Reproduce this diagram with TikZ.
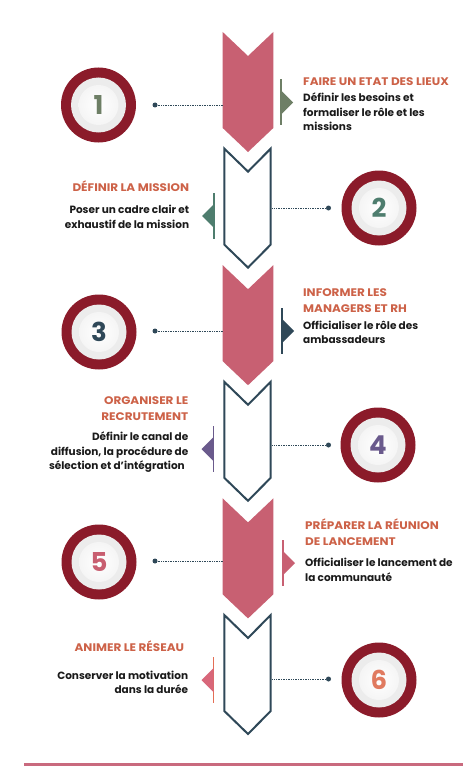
\documentclass[tikz,border=0pt]{standalone}
\usepackage{fontspec}
\setmainfont{Poppins}
\newfontfamily\ttlfont{Poppins}[FakeStretch=1.09]
\definecolor{chevpink}{HTML}{C86072}
\definecolor{slate}{HTML}{2F4858}
\definecolor{ringred}{HTML}{8B1B2A}
\definecolor{titlecol}{HTML}{CD6248}
\definecolor{bodycol}{HTML}{1A1A1A}
\definecolor{innergray}{HTML}{ECECEC}
\definecolor{cA}{HTML}{6E7F66}
\definecolor{cB}{HTML}{4E7D6E}
\definecolor{cC}{HTML}{2F4858}
\definecolor{cD}{HTML}{6A5A8C}
\definecolor{cE}{HTML}{C85E70}
\definecolor{cF}{HTML}{E07A5F}
\definecolor{mF}{HTML}{D8677A}
\definecolor{botpink}{HTML}{C96A7E}
\tikzset{
  fillchev/.style={fill=chevpink, draw=none},
  outchev/.style={draw=slate, line width=2pt, fill=white, line join=miter},
  numtxt/.style={font=\bfseries\fontsize{26}{26}\selectfont, inner sep=0},
  dotline/.style={draw=slate, line width=0.9pt, dash pattern=on 0.7pt off 1pt},
  enddot/.style={circle, fill=slate, inner sep=0, minimum size=5pt},
  ttl/.style={font=\ttlfont\bfseries\fontsize{11}{12}\selectfont, text=titlecol, inner sep=0},
  bdy/.style={font=\bfseries\fontsize{10.5}{12}\selectfont, text=bodycol, inner sep=0},
  mline/.style={line width=1.5pt},
}
\begin{document}
\begin{tikzpicture}[x=1pt, y=-1pt]
\useasboundingbox (0,0) rectangle (474,773);
\fill[white] (0,0) rectangle (474,773);

% chevrons
\foreach \t in {32,265.2,498.4} {
  \fill[fillchev] (222.7,\t) -- (248,{\t+24}) -- (273.3,\t) -- (273.3,{\t+96}) -- (248,{\t+120}) -- (222.7,{\t+96}) -- cycle;
}
\foreach \t in {148.6,381.8,615} {
  \draw[outchev] (224.3,\t) -- (248,{\t+23}) -- (270.7,\t) -- (270.7,{\t+96}) -- (248,{\t+119}) -- (224.3,{\t+96}) -- cycle;
}

% circles with numbers
\foreach \i/\cx/\cy/\col in {1/98.5/105/cA, 2/379/208/cB, 3/99/332/cC, 4/378/445/cD, 5/99/562/cE, 6/379/680/cF} {
  \fill[ringred] (\cx,\cy) circle[radius=37.5pt];
  \fill[innergray] (\cx,\cy) circle[radius=27.5pt];
  \shade[inner color=white, outer color=white!92!gray] (\cx,\cy) circle[radius=20pt];
  \node[numtxt, text=\col] (n\i) at (\cx,\cy) {\i};
}

% dots and dotted connectors
\foreach \i/\dx/\ex/\y in {1/155/222.7/105, 3/155/222.7/331, 5/155/222.7/561, 2/328.5/271.5/208, 4/328.5/271.5/445, 6/328.5/271.5/679} {
  \node[enddot] (d\i) at (\dx,\y) {};
  \coordinate (e\i) at (\ex,\y);
  \draw[dotline] (d\i) -- (e\i);
}

% markers
\foreach \x/\y/\s/\col/\lc in {281/102.5/1/cA/cA, 282/331/1/cC/cC, 283/563/1/chevpink/chevpink, 214/216/-1/cB/cB, 213.5/449/-1/cD/cD, 213.5/680/-1/mF/mF!70!orange} {
  \draw[mline, \lc] (\x,{\y-23}) -- (\x,{\y+23});
  \fill[\col] (\x,{\y-12}) -- ({\x+\s*12},\y) -- (\x,{\y+12}) -- cycle;
}

% step 1
\node[ttl, anchor=base west] (t1a) at (303,85.7) {FAIRE UN ETAT DES LIEUX};
\node[bdy, anchor=base west] (b1a) at (303,101.7) {Définir les besoins et};
\node[bdy, anchor=base west] (b1b) at (303,116.5) {formaliser le rôle et les};
\node[bdy, anchor=base west] (b1c) at (303,131) {missions};
% step 2
\node[ttl, anchor=base east] (t2a) at (189.3,191.7) {DÉFINIR LA MISSION};
\node[bdy, anchor=base east] (b2a) at (189.3,213.3) {Poser un cadre clair et};
\node[bdy, anchor=base east] (b2b) at (189.3,228) {exhaustif de la mission};
% step 3
\node[ttl, anchor=base west] (t3a) at (303,296.7) {INFORMER LES};
\node[ttl, anchor=base west] (t3b) at (303,312.3) {MANAGERS ET RH};
\node[bdy, anchor=base west] (b3a) at (303,329) {Officialiser le rôle des};
\node[bdy, anchor=base west] (b3b) at (303,343.5) {ambassadeurs};
% step 4
\node[ttl, anchor=base east] (t4a) at (188.5,404) {ORGANISER LE};
\node[ttl, anchor=base east] (t4b) at (188.5,420) {RECRUTEMENT};
\node[bdy, anchor=base east] (b4a) at (188.5,440) {Définir le canal de};
\node[bdy, anchor=base east] (b4b) at (188.5,455) {diffusion, la procédure de};
\node[bdy, anchor=base east] (b4c) at (185,469.5) {sélection et d’intégration};
% step 5
\node[ttl, anchor=base west] (t5a) at (305,529.3) {PRÉPARER LA RÉUNION};
\node[ttl, anchor=base west] (t5b) at (305,545.7) {DE LANCEMENT};
\node[bdy, anchor=base west] (b5a) at (305,566) {Officialiser le lancement de};
\node[bdy, anchor=base west] (b5b) at (305,581) {la communauté};
% step 6
\node[ttl, anchor=base east] (t6a) at (184.3,651.7) {ANIMER LE RÉSEAU};
\node[bdy, anchor=base east] (b6a) at (188.3,679.3) {Conserver la motivation};
\node[bdy, anchor=base east] (b6b) at (188.3,693.5) {dans la durée};

% bottom rule
\draw[botpink, line width=3pt] (24.3,764) -- (463.3,764);
\end{tikzpicture}
\end{document}
